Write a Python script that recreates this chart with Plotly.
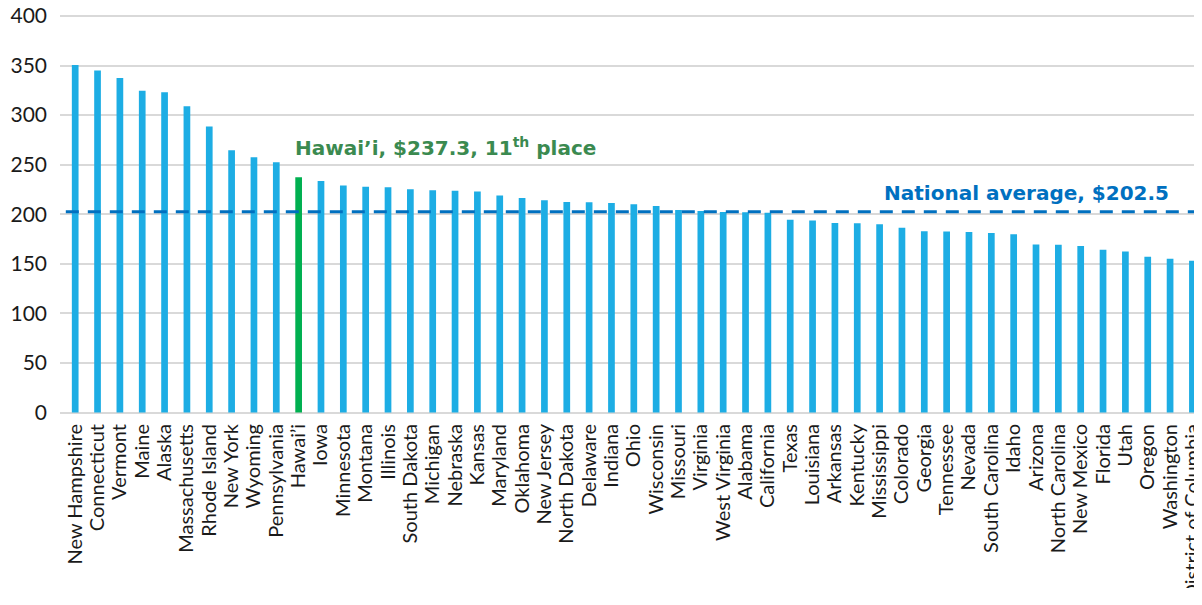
import plotly.graph_objects as go

states = ["New Hampshire", "Connecticut", "Vermont", "Maine", "Alaska", "Massachusetts",
          "Rhode Island", "New York", "Wyoming", "Pennsylvania", "Hawai\u2019i", "Iowa",
          "Minnesota", "Montana", "Illinois", "South Dakota", "Michigan", "Nebraska",
          "Kansas", "Maryland", "Oklahoma", "New Jersey", "North Dakota", "Delaware",
          "Indiana", "Ohio", "Wisconsin", "Missouri", "Virginia", "West Virginia",
          "Alabama", "California", "Texas", "Louisiana", "Arkansas", "Kentucky",
          "Mississippi", "Colorado", "Georgia", "Tennessee", "Nevada", "South Carolina",
          "Idaho", "Arizona", "North Carolina", "New Mexico", "Florida", "Utah",
          "Oregon", "Washington", "District of Columbia"]

values = [350.5, 345.0, 337.5, 324.5, 323.0, 309.0,
          288.5, 264.5, 257.5, 252.5, 237.3, 233.5,
          229.0, 227.8, 227.2, 225.2, 224.2, 223.6,
          223.0, 218.8, 216.3, 214.2, 212.4, 212.0,
          211.3, 210.0, 208.3, 204.2, 203.2, 202.2,
          202.0, 201.6, 194.5, 193.8, 191.2, 190.9,
          189.9, 186.5, 182.8, 182.6, 182.0, 181.1,
          179.8, 169.4, 169.2, 168.0, 164.2, 162.5,
          157.0, 155.0, 153.0]

highlight_state = "Hawai\u2019i"
national_average = 202.5
y_ticks = [0, 50, 100, 150, 200, 250, 300, 350, 400]

hawaii_label = "Hawai\u2019i, $237.3, 11<sup>th</sup> place"
average_label = "National average, $202.5"

BLUE = "#1DADE4"
GREEN = "#00B050"
bar_colors = [GREEN if s == highlight_state else BLUE for s in states]
x_idx = list(range(len(states)))

fig = go.Figure()
fig.add_trace(go.Bar(
    x=x_idx, y=values, marker=dict(color=bar_colors, line=dict(width=0)),
    width=0.3, hoverinfo="skip", showlegend=False,
))
fig.add_trace(go.Scatter(
    x=[-0.42, 51], y=[national_average, national_average], mode="lines",
    line=dict(color="#0070C0", width=3, dash="13px,9px"),
    hoverinfo="skip", showlegend=False,
))

hi = states.index(highlight_state)
fig.add_annotation(x=hi - 0.25, y=268, text=hawaii_label, showarrow=False,
                   xanchor="left", yanchor="middle",
                   font=dict(family="DejaVu Sans", size=20, color="#3B8A50", weight="bold"))
fig.add_annotation(x=36.1, y=221.5, text=average_label, showarrow=False,
                   xanchor="left", yanchor="middle",
                   font=dict(family="DejaVu Sans", size=20, color="#0070C0", weight="bold"))

# page body has an 8px margin: size figure so the page doesn't scroll and the
# plot lands where the reference has it
fig.update_layout(
    width=1188, height=580,
    margin=dict(l=52, r=0, t=5.7, b=173.5, autoexpand=False),
    paper_bgcolor="white", plot_bgcolor="white",
    font=dict(family="Lato", color="#1a1a1a"),
    bargap=0.7,
)
fig.update_xaxes(
    range=[-0.68, 50.16], tickmode="array", tickvals=x_idx, ticktext=states,
    tickangle=-90, tickfont=dict(size=20, color="#1a1a1a"), showgrid=False,
    showline=False, zeroline=False, ticks="", ticklabelstandoff=5, automargin=False,
    ticklabeloverflow="allow",
)
fig.update_yaxes(
    range=[-1.5, 402], tickvals=y_ticks, showgrid=True, gridcolor="#D9D9D9", gridwidth=1.5,
    zeroline=True, zerolinecolor="#D9D9D9", zerolinewidth=2, showline=False,
    tickfont=dict(size=21, color="#1a1a1a"), ticks="", ticklabelstandoff=12,
    automargin=False, ticklabeloverflow="allow",
)

fig.write_html("out.html")
